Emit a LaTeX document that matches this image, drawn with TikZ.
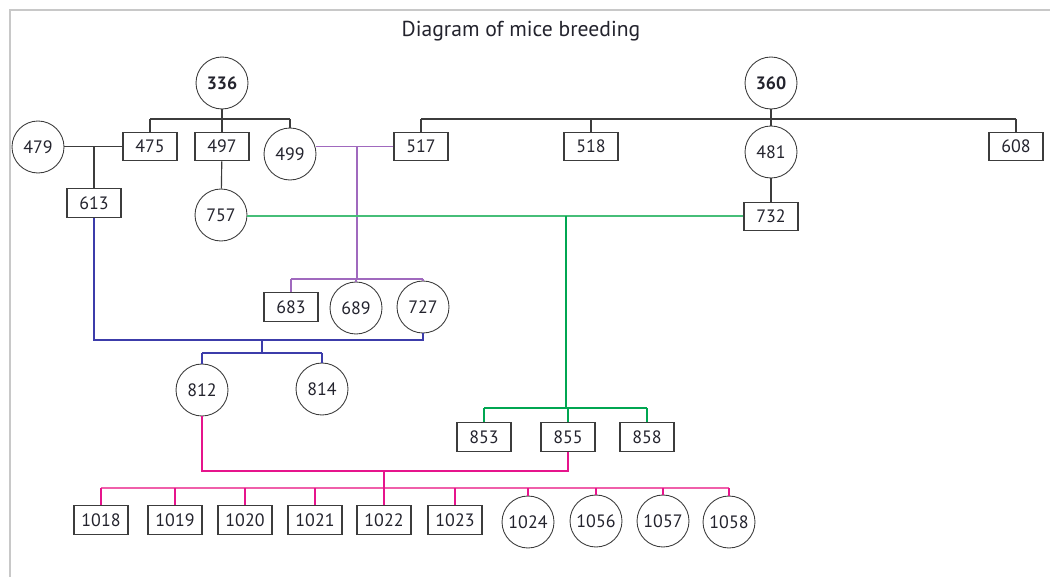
\documentclass[tikz,border=0pt]{standalone}
\usepackage{fontspec}
\setmainfont{PT Sans}
\usetikzlibrary{calc}
\definecolor{miceframe}{RGB}{200,200,200}
\definecolor{micegray}{RGB}{60,60,60}
\definecolor{micetext}{RGB}{35,35,45}
\definecolor{micepurple}{RGB}{160,105,190}
\definecolor{micegreen}{RGB}{0,166,81}
\definecolor{micelightgreen}{RGB}{70,190,120}
\definecolor{miceblue}{RGB}{60,60,170}
\definecolor{micemagenta}{RGB}{230,20,140}
\definecolor{micepink}{RGB}{240,95,170}
\tikzset{
  femalenode/.style={
    circle, draw=micegray, line width=0.5pt, fill=white,
    minimum size=1.04cm, inner sep=0pt, text=micetext,
    font=\fontsize{10.2}{12}\selectfont
  },
  malenode/.style={
    rectangle, draw=micegray, line width=0.6pt, fill=white,
    minimum width=1.08cm, minimum height=0.57cm, inner sep=0pt, text=micetext,
    font=\fontsize{10.2}{12}\selectfont
  },
  founder/.style={font=\fontsize{10.2}{12}\selectfont\bfseries},
  title/.style={font=\fontsize{12.3}{14}\selectfont, text=micetext},
  blackline/.style={line width=0.65pt, draw=micegray},
  purpleline/.style={line width=0.7pt, draw=micepurple},
  greenline/.style={line width=0.7pt, draw=micegreen},
  lightgreenline/.style={line width=0.8pt, draw=micelightgreen},
  blueline/.style={line width=0.7pt, draw=miceblue},
  magentaline/.style={line width=0.7pt, draw=micemagenta},
  pinkline/.style={line width=0.75pt, draw=micepink}
}

\begin{document}
\begin{tikzpicture}[x=0.02cm, y=-0.02cm]
\useasboundingbox (0,0) rectangle (1050,577);
\draw[miceframe, line width=1.1pt] (10,577) -- (10,10) -- (1050,10);

\node[title] (ttl) at (521,31) {Diagram of mice breeding};

% founders
\node[femalenode, founder] (n336) at (222,83) {336};
\node[femalenode, founder] (n360) at (771,83) {360};

% second row
\node[femalenode] (n479) at (38,147) {479};
\node[malenode] (n475) at (150,146.5) {475};
\node[malenode] (n497) at (222,146.5) {497};
\node[femalenode] (n499) at (290,154) {499};
\node[malenode] (n517) at (421,146.5) {517};
\node[malenode] (n518) at (591,146.5) {518};
\node[femalenode] (n481) at (771,152) {481};
\node[malenode] (n608) at (1016,146.5) {608};

% third row
\node[malenode] (n613) at (94,203) {613};
\node[femalenode] (n757) at (221,215) {757};
\node[malenode] (n732) at (771,216.5) {732};

\node[malenode] (n683) at (291,307) {683};
\node[femalenode] (n689) at (356,308) {689};
\node[femalenode] (n727) at (423,307) {727};

\node[femalenode] (n812) at (202,390) {812};
\node[femalenode] (n814) at (322,389) {814};

\node[malenode] (n853) at (484,437) {853};
\node[malenode] (n855) at (568,437) {855};
\node[malenode] (n858) at (647,437) {858};

% last litter
\node[malenode] (n1018) at (101,520) {1018};
\node[malenode] (n1019) at (175,520) {1019};
\node[malenode] (n1020) at (245,520) {1020};
\node[malenode] (n1021) at (315,520) {1021};
\node[malenode] (n1022) at (384,520) {1022};
\node[malenode] (n1023) at (455,520) {1023};
\node[femalenode] (n1024) at (528,522) {1024};
\node[femalenode] (n1056) at (596,521) {1056};
\node[femalenode] (n1057) at (663,521) {1057};
\node[femalenode] (n1058) at (729,522) {1058};

% junctions
\coordinate (j336) at (222,119);
\coordinate (j360) at (771,119);
\coordinate (jp) at (357,146.5);
\coordinate (jpb) at (357,279);
\coordinate (jg) at (566,216);
\coordinate (jgb) at (566,408);
\coordinate (jb) at (262,340);
\coordinate (jbb) at (262,353);
\coordinate (jm) at (384,471);
\coordinate (jmb) at (384,488);

% 336 family
\draw[blackline] (n336) -- (j336);
\draw[blackline] (n475 |- j336) -- (n499 |- j336);
\foreach \c in {n475, n497, n499}
  \draw[blackline] (\c |- j336) -- (\c);
\draw[blackline] (n479.east |- n475) -- (n475);
\draw[blackline] (n613 |- n475) -- (n613);
\draw[blackline] (n497) -- (n757);

% 360 family
\draw[blackline] (n360) -- (j360);
\draw[blackline] (n517 |- j360) -- (n608 |- j360);
\foreach \c in {n517, n518, n481, n608}
  \draw[blackline] (\c |- j360) -- (\c);
\draw[blackline] (n481) -- (n732);

% 499 x 517
\draw[purpleline] (n517) -- (n517 -| n499.east);
\draw[purpleline] (jp) -- (jpb);
\draw[purpleline] (n683 |- jpb) -- (n727 |- jpb);
\foreach \c in {n683, n689, n727}
  \draw[purpleline] (\c |- jpb) -- (\c);

% 757 x 732
\draw[lightgreenline] (n757.east |- jg) -- (n732.west |- jg);
\draw[greenline] (jg) -- (jgb);
\draw[greenline] (n853 |- jgb) -- (n858 |- jgb);
\foreach \c in {n853, n855, n858}
  \draw[greenline] (\c |- jgb) -- (\c);

% 613 x 727
\draw[blueline] (n613) |- (jb) -| (n727);
\draw[blueline] (jb) -- (jbb);
\draw[blueline] (n812 |- jbb) -- (n814 |- jbb);
\foreach \c in {n812, n814}
  \draw[blueline] (\c |- jbb) -- (\c);

% 812 x 855
\draw[magentaline] (n812) |- (jm) -| (n855);
\draw[pinkline] (n1018 |- jmb) -- (n1058 |- jmb);
\foreach \c in {n1018, n1019, n1020, n1021, n1023, n1024, n1056, n1057, n1058}
  \draw[magentaline] (\c |- jmb) -- (\c);
\draw[magentaline] (jm) -- (n1022);
\end{tikzpicture}
\end{document}
